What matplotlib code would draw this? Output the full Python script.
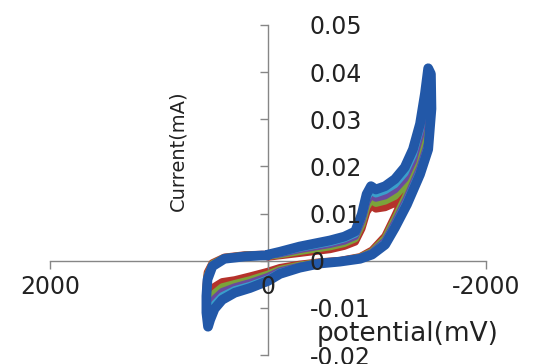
import matplotlib
matplotlib.use("Agg")
import matplotlib.pyplot as plt

# scan potentials (mV), shared by all five cycles: forward to -1500, back to +560, back to 0
potential_mV = [0, -110, -290, -570, -700, -800, -860, -905, -945, -990, -1075, -1165,
                -1255, -1330, -1395, -1440, -1470,
                -1495, -1500, -1470, -1395, -1275, -1165, -1075, -955, -845, -660, -475,
                -290, -110, 0, 165, 305, 420, 490, 530, 550, 565, 565, 555, 510, 400, 210, 55, 0]

# currents (mA) of each cycle
cycle1 = [0.0008, 0.0011, 0.0016, 0.0024, 0.0031, 0.0040, 0.0068, 0.0103, 0.0117, 0.0110, 0.0113,
          0.0122, 0.0143, 0.0180, 0.0232, 0.0300, 0.0370,
          0.0372, 0.0330, 0.0270, 0.0215, 0.0150, 0.0095, 0.0052, 0.0022, 0.0008, 0.0000, -0.0003,
          -0.0008, -0.0015, -0.0023, -0.0033, -0.0041, -0.0045, -0.0055, -0.0075, -0.0095, -0.0075,
          -0.0050, -0.0025, -0.0005, 0.0007, 0.0012, 0.0013, 0.0013]
cycle2 = [0.0010, 0.0013, 0.0020, 0.0030, 0.0037, 0.0047, 0.0077, 0.0114, 0.0129, 0.0122, 0.0127,
          0.0137, 0.0160, 0.0197, 0.0249, 0.0316, 0.0381,
          0.0379, 0.0328, 0.0260, 0.0205, 0.0141, 0.0088, 0.0047, 0.0019, 0.0007, -0.0001, -0.0004,
          -0.0010, -0.0019, -0.0029, -0.0041, -0.0049, -0.0056, -0.0069, -0.0090, -0.0109, -0.0086,
          -0.0058, -0.0030, -0.0007, 0.0006, 0.0011, 0.0012, 0.0012]
cycle3 = [0.0011, 0.0015, 0.0024, 0.0035, 0.0042, 0.0052, 0.0085, 0.0124, 0.0140, 0.0133, 0.0138,
          0.0151, 0.0174, 0.0211, 0.0264, 0.0330, 0.0391,
          0.0385, 0.0326, 0.0251, 0.0197, 0.0133, 0.0081, 0.0042, 0.0017, 0.0006, -0.0001, -0.0005,
          -0.0012, -0.0022, -0.0034, -0.0047, -0.0056, -0.0066, -0.0081, -0.0103, -0.0120, -0.0095,
          -0.0064, -0.0033, -0.0009, 0.0005, 0.0010, 0.0012, 0.0012]
cycle4 = [0.0012, 0.0017, 0.0027, 0.0039, 0.0047, 0.0057, 0.0092, 0.0133, 0.0149, 0.0142, 0.0149,
          0.0162, 0.0186, 0.0224, 0.0278, 0.0343, 0.0400,
          0.0391, 0.0324, 0.0243, 0.0190, 0.0126, 0.0075, 0.0038, 0.0015, 0.0005, -0.0002, -0.0005,
          -0.0014, -0.0025, -0.0039, -0.0053, -0.0062, -0.0075, -0.0092, -0.0115, -0.0131, -0.0103,
          -0.0070, -0.0037, -0.0011, 0.0005, 0.0009, 0.0011, 0.0011]
cycle5 = [0.0013, 0.0019, 0.0030, 0.0043, 0.0051, 0.0062, 0.0098, 0.0141, 0.0158, 0.0151, 0.0158,
          0.0173, 0.0198, 0.0236, 0.0290, 0.0354, 0.0408,
          0.0396, 0.0322, 0.0236, 0.0183, 0.0119, 0.0070, 0.0034, 0.0013, 0.0004, -0.0002, -0.0006,
          -0.0015, -0.0028, -0.0043, -0.0058, -0.0068, -0.0083, -0.0102, -0.0125, -0.0140, -0.0110,
          -0.0075, -0.0040, -0.0012, 0.0004, 0.0009, 0.0011, 0.0011]

cycles = [cycle1, cycle2, cycle3, cycle4, cycle5]
colors = ["#b5322b", "#7ba33a", "#6a4a9e", "#3a9fcb", "#2258a8"]
widths = [5.5, 5.5, 5.5, 5.5, 7.0]

x_ticks = [2000, 0, -2000]
y_ticks = [-0.02, -0.01, 0, 0.01, 0.02, 0.03, 0.04, 0.05]
y_tick_labels = ["-0.02", "-0.01", "0", "0.01", "0.02", "0.03", "0.04", "0.05"]

fig = plt.figure(figsize=(5.47, 3.64), dpi=100)
ax = fig.add_axes([0.0914, 0.0247, 0.797, 0.907])

for cur, c, w in zip(cycles, colors, widths):
    ax.plot(potential_mV, cur, color=c, lw=w, solid_capstyle="round", solid_joinstyle="round")

ax.set_xlim(2000, -2000)
ax.set_ylim(-0.02, 0.05)

# axes cross at the origin, like the spreadsheet chart; labels drawn over the curves
ax.set_axisbelow(False)
ax.spines["left"].set_position(("data", 0))
ax.spines["bottom"].set_position(("data", 0))
ax.spines["top"].set_visible(False)
ax.spines["right"].set_visible(False)
for s in ["left", "bottom"]:
    ax.spines[s].set_color("#868686")
    ax.spines[s].set_linewidth(1.0)
    ax.spines[s].set_zorder(1.8)

ax.set_xticks(x_ticks)
ax.set_xticklabels([str(v) for v in x_ticks])
ax.set_yticks(y_ticks)
ax.set_yticklabels(y_tick_labels)

ax.tick_params(axis="x", direction="out", length=6, width=1.0, color="#868686",
               labelsize=17, labelcolor="#222222", pad=4)
ax.tick_params(axis="y", direction="out", length=6, width=1.0, color="#868686",
               labelsize=17, labelcolor="#222222", pad=-36)
for lab in ax.get_yticklabels():
    lab.set_horizontalalignment("left")

ax.set_xlabel("potential(mV)", fontsize=19, color="#222222")
ax.xaxis.label.set_va("center")
ax.xaxis.set_label_coords(0.82, 0.065)

ax.set_ylabel("Current(mA)", fontsize=14, color="#222222")
ax.yaxis.label.set_va("center")
ax.yaxis.set_label_coords(0.294, 0.62)

fig.savefig("out.png", dpi=100)
